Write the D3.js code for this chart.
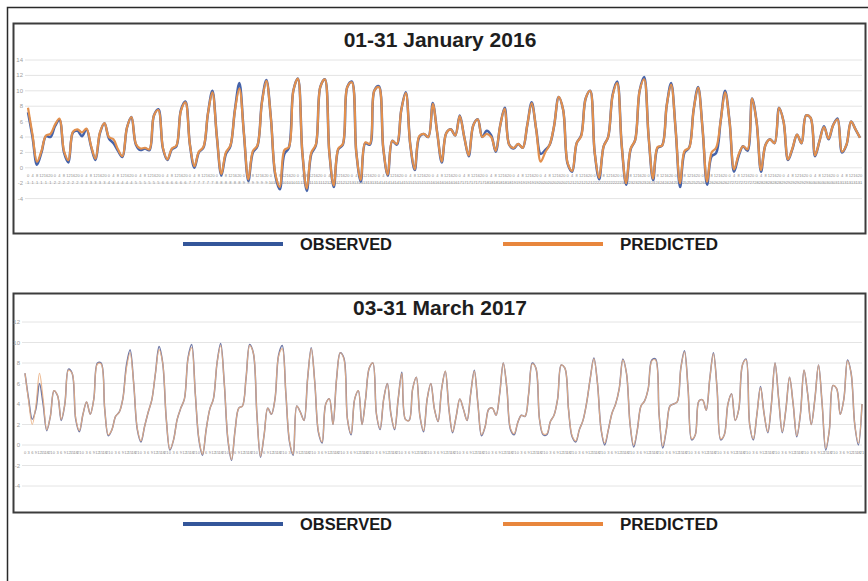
<!DOCTYPE html>
<html>
<head>
<meta charset="utf-8">
<script src="https://cdn.jsdelivr.net/npm/d3@7"></script>
<style>
  body { margin: 0; background: #fff; }
  svg { display: block; font-family: "Liberation Sans", Arial, sans-serif; }
</style>
</head>
<body>
<div id="chart"></div>
<script>
// 01-31 January 2016, 4-hourly values
let jan_days = d3.range(1, 32);
let jan_hours = ["0", "4", "8", "12", "16", "20"];
let jan_observed = [
  7.2, 4.0, 0.4, 2.0, 4.1, 4.0, 5.4, 6.2, 2.0, 0.7,
  4.6, 4.8, 4.1, 5.0, 2.8, 1.0, 4.5, 5.8, 3.8, 3.2,
  2.2, 1.4, 5.2, 6.6, 3.0, 2.3, 2.5, 2.3, 6.8, 7.6,
  2.5, 1.0, 2.4, 2.8, 7.5, 8.6, 3.0, 0.0, 2.0, 2.6,
  7.0, 10.0, 4.0, -1.0, 1.8, 2.8, 7.5, 11.0, 4.5, -1.7,
  2.0, 2.8, 8.5, 11.4, 6.5, -1.0, -2.8, 1.8, 2.6, 10.0,
  11.6, 2.0, -3.0, 1.8, 2.9, 10.5, 11.5, 2.0, -2.5, 2.4,
  3.0, 10.5, 11.2, 2.0, -1.8, 3.2, 3.0, 10.0, 10.6, 2.5,
  -1.0, 3.5, 3.0, 7.5, 9.8, 3.0, -0.3, 4.0, 4.4, 4.0,
  8.4, 4.5, 0.7, 4.5, 5.0, 4.2, 6.8, 4.0, 1.5, 5.5,
  6.3, 4.0, 4.8, 4.2, 2.1, 5.5, 7.8, 3.0, 2.5, 3.1,
  2.6, 5.5, 8.5, 5.0, 1.8, 2.3, 3.0, 5.5, 9.2, 7.5,
  0.5, -0.5, 3.2, 4.2, 9.0, 10.0, 2.0, -1.5, 2.8, 4.0,
  9.5, 11.2, 3.0, -2.2, 2.4, 3.6, 10.0, 11.8, 4.0, -1.6,
  2.6, 2.9, 8.0, 11.0, 5.0, -2.5, 2.0, 2.6, 7.5, 10.5,
  5.0, -2.2, 1.5, 1.9, 6.0, 10.0, 6.0, -0.5, 1.5, 2.8,
  2.2, 9.0, 6.0, -0.5, 3.0, 3.7, 3.2, 7.8, 6.0, 1.0,
  2.5, 4.3, 3.2, 6.8, 6.5, 1.5, 3.5, 5.4, 3.7, 5.5,
  6.4, 2.0, 3.0, 6.0, 5.0, 3.9
];
let jan_predicted = [
  7.8, 4.3, 0.8, 2.2, 4.2, 4.4, 5.6, 6.4, 2.2, 1.0,
  4.7, 5.0, 4.6, 5.1, 2.9, 1.2, 4.6, 5.8, 4.0, 3.7,
  2.4, 1.5, 5.2, 6.6, 3.1, 2.5, 2.6, 2.4, 6.8, 7.5,
  2.6, 1.1, 2.5, 2.9, 7.4, 8.5, 3.0, 0.2, 2.1, 2.7,
  7.0, 9.8, 4.0, -0.8, 2.0, 2.9, 7.4, 10.3, 4.5, -1.5,
  2.2, 2.9, 8.4, 11.3, 6.5, -0.8, -2.5, 2.3, 2.7, 10.0,
  11.6, 2.0, -2.7, 2.0, 3.0, 10.5, 11.5, 2.0, -2.3, 2.5,
  3.1, 10.5, 11.1, 2.0, -1.6, 3.3, 3.1, 10.0, 10.5, 2.5,
  -0.9, 3.5, 3.1, 7.5, 9.7, 3.0, -0.2, 4.1, 4.4, 4.0,
  8.3, 4.5, 0.8, 4.5, 5.0, 4.2, 6.7, 4.0, 1.6, 5.5,
  6.3, 4.0, 4.4, 4.0, 2.2, 5.5, 7.7, 3.0, 2.6, 3.1,
  2.6, 5.5, 8.4, 5.0, 0.8, 2.0, 3.0, 5.5, 9.2, 7.5,
  0.6, -0.4, 3.2, 4.1, 9.0, 10.0, 2.0, -1.3, 2.8, 4.0,
  9.4, 11.0, 3.0, -2.0, 2.5, 3.6, 10.0, 11.5, 4.0, -1.4,
  2.7, 2.9, 8.0, 10.8, 5.0, -2.0, 2.2, 2.6, 7.5, 10.4,
  5.0, -1.8, 2.0, 2.6, 6.0, 9.8, 6.0, -0.2, 1.7, 2.8,
  2.4, 9.0, 6.0, -0.3, 3.0, 3.7, 3.2, 7.8, 6.0, 1.1,
  2.6, 4.3, 3.2, 6.8, 6.5, 1.6, 3.5, 5.3, 3.8, 5.5,
  6.3, 2.1, 3.0, 6.0, 5.0, 3.9
];
let jan_ticks = [14, 12, 10, 8, 6, 4, 2, 0, -2, -4];

// 03-31 March 2017, 3-hourly values
let mar_days = d3.range(3, 32);
let mar_hours = ["0", "3", "6", "9", "12", "15", "18", "21"];
let mar_observed = [
  7.0, 4.5, 2.5, 3.5, 6.0, 4.0, 1.4, 2.8, 5.3, 4.8,
  2.4, 4.0, 7.4, 7.0, 2.5, 1.3, 3.0, 4.2, 3.0, 4.5,
  8.0, 8.0, 3.5, 0.9, 1.5, 2.8, 3.2, 4.5, 7.8, 9.3,
  6.0, 1.5, 0.3, 1.8, 3.2, 4.4, 7.0, 9.6, 8.0, 2.5,
  -0.5, 0.5, 2.5, 3.6, 4.5, 8.5, 9.8, 5.0, 0.5, -1.0,
  1.5, 3.5, 4.5, 8.0, 9.9, 6.0, 0.5, -1.5, 1.5, 3.6,
  3.8, 6.5, 9.8, 9.0, 3.0, -1.2, 1.0, 3.6, 3.0, 4.5,
  8.8, 9.7, 5.0, 0.3, -1.0, 3.8, 3.2, 2.4, 6.5, 9.5,
  6.0, 1.2, 0.2, 4.0, 4.5, 2.0, 6.5, 9.0, 8.5, 2.5,
  1.0, 4.5, 5.3, 2.0, 4.5, 7.5, 8.0, 3.0, 1.5, 4.5,
  6.0, 3.0, 1.5, 4.5, 7.1, 2.5, 2.4, 5.5, 6.6, 2.8,
  1.3, 4.5, 6.0, 3.5, 2.3, 5.5, 7.2, 3.5, 1.2, 2.8,
  4.5, 3.5, 2.4, 5.0, 7.3, 4.0, 0.9, 1.8, 3.5, 3.6,
  2.9, 5.0, 8.0, 5.5, 1.5, 1.0, 2.2, 2.9, 2.8, 5.0,
  8.0, 7.5, 2.5, 1.0, 1.0, 2.3, 2.9, 4.5, 7.8, 7.5,
  3.5, 0.8, 0.3, 1.5, 2.4, 4.1, 6.5, 8.5, 6.0, 1.5,
  0.0, 1.5, 3.1, 4.0, 5.5, 8.4, 7.0, 2.0, -0.2, 1.5,
  3.8, 4.3, 5.5, 8.3, 8.4, 3.0, -0.3, 1.5, 3.8, 4.0,
  4.2, 7.5, 9.2, 5.5, 0.5, 1.0, 4.3, 4.4, 3.4, 6.5,
  9.0, 5.5, 0.5, 1.0, 4.0, 5.0, 2.4, 3.5, 7.8, 8.4,
  2.0, 0.5, 3.0, 5.7, 3.0, 1.2, 4.0, 8.0, 4.5, 1.2,
  3.5, 6.6, 4.0, 0.8, 3.0, 7.3, 5.0, 2.0, 4.5, 7.8,
  4.0, -0.5, 1.5, 5.8, 5.5, 3.0, 4.5, 8.3, 7.0, 2.0,
  0.0, 4.0
];
let mar_predicted = [
  7.0, 4.3, 2.0, 3.8, 7.0, 4.5, 1.5, 2.8, 5.3, 4.8,
  2.5, 4.0, 7.3, 7.0, 2.6, 1.4, 3.0, 4.2, 3.0, 4.5,
  7.9, 7.9, 3.5, 1.0, 1.5, 2.8, 3.2, 4.5, 7.5, 9.0,
  6.0, 1.6, 0.4, 1.8, 3.2, 4.4, 7.0, 9.3, 8.0, 2.5,
  -0.4, 0.5, 2.5, 3.6, 4.5, 8.4, 9.5, 5.0, 0.6, -0.9,
  1.5, 3.5, 4.5, 8.0, 9.7, 6.0, 0.6, -1.4, 1.5, 3.6,
  3.8, 6.5, 9.7, 9.0, 3.0, -1.1, 1.0, 3.6, 3.0, 4.5,
  8.7, 9.4, 5.0, 0.4, -0.9, 3.8, 3.2, 2.4, 6.5, 9.4,
  6.0, 1.3, 0.3, 4.0, 4.5, 2.0, 6.5, 9.0, 8.4, 2.5,
  1.1, 4.5, 5.3, 2.0, 4.5, 7.5, 8.0, 3.0, 1.6, 4.5,
  6.0, 3.0, 1.6, 4.5, 7.0, 2.5, 2.4, 5.5, 6.6, 2.8,
  1.4, 4.5, 6.0, 3.5, 2.3, 5.5, 7.2, 3.5, 1.3, 2.8,
  4.5, 3.5, 2.4, 5.0, 7.2, 4.0, 1.0, 1.8, 3.5, 3.6,
  2.9, 5.0, 8.0, 5.5, 1.6, 1.1, 2.2, 2.9, 2.8, 5.0,
  7.9, 7.5, 2.5, 1.1, 1.1, 2.3, 2.9, 4.5, 7.8, 7.5,
  3.5, 0.9, 0.4, 1.5, 2.4, 4.1, 6.5, 8.4, 6.0, 1.5,
  0.2, 1.5, 3.1, 4.0, 5.5, 8.3, 7.0, 2.0, 0.0, 1.5,
  3.8, 4.3, 5.5, 8.2, 8.3, 3.0, -0.1, 1.5, 3.8, 4.0,
  4.2, 7.5, 9.1, 5.5, 0.6, 1.0, 4.3, 4.4, 3.4, 6.5,
  8.9, 5.5, 0.6, 1.0, 4.0, 5.0, 2.4, 3.5, 7.8, 8.3,
  2.0, 0.6, 3.0, 5.6, 3.0, 1.3, 4.0, 8.0, 4.5, 1.3,
  3.5, 6.6, 4.0, 0.9, 3.0, 7.3, 5.0, 2.0, 4.5, 7.8,
  4.0, -0.3, 1.5, 5.8, 5.5, 3.0, 4.5, 8.2, 7.0, 2.0,
  0.2, 4.0
];
let mar_ticks = [12, 10, 8, 6, 4, 2, 0, -2, -4];

let series_names = ["OBSERVED", "PREDICTED"];

let width = 868;
let height = 581;

let svg = d3.select("#chart").append("svg")
    .attr("width", width)
    .attr("height", height);

// outer frame
svg.append("rect")
    .attr("x", 7.5).attr("y", 7.5)
    .attr("width", 900).attr("height", 600)
    .attr("fill", "none")
    .attr("stroke", "#2a2a2a")
    .attr("stroke-width", 1.5);

function categories(days, hours) {
    let cats = [];
    days.forEach(function (d) {
        hours.forEach(function (h) {
            cats.push({day: d, hour: h, key: d + "-" + h});
        });
    });
    return cats;
}

function drawPanel(p) {
    let g = svg.append("g");

    // chart box
    g.append("rect")
        .attr("x", 13.5).attr("y", p.boxTop)
        .attr("width", 852).attr("height", p.boxHeight)
        .attr("fill", "#fff")
        .attr("stroke", "#3c3c3c")
        .attr("stroke-width", 2);

    let cats = categories(p.days, p.hours);
    let x = d3.scalePoint()
        .domain(cats.map(c => c.key))
        .range(p.xRange);
    let y = d3.scaleLinear()
        .domain([d3.min(p.ticks), d3.max(p.ticks)])
        .range(p.yRange);

    // gridlines
    g.selectAll(".grid")
        .data(p.ticks)
        .enter().append("line")
        .attr("x1", p.xRange[0] - 3).attr("x2", 862)
        .attr("y1", d => y(d)).attr("y2", d => y(d))
        .attr("stroke", "#e4e4e4")
        .attr("stroke-width", 1);

    // y labels
    g.selectAll(".ylab")
        .data(p.ticks)
        .enter().append("text")
        .attr("x", p.xRange[0] - 5)
        .attr("y", d => y(d) + 2)
        .attr("text-anchor", "end")
        .attr("font-size", 6)
        .attr("fill", "#a0a0a0")
        .text(d => d);

    // category labels (tiny, like the original export)
    g.selectAll(".xlab")
        .data(cats)
        .enter().append("text")
        .attr("x", d => x(d.key))
        .attr("y", y(0) + p.labelOffset)
        .attr("text-anchor", "middle")
        .attr("font-size", 4)
        .attr("fill", "#8c8c8c")
        .text(d => d.hour);
    if (p.twoRows) {
        g.selectAll(".xlab2")
            .data(cats)
            .enter().append("text")
            .attr("x", d => x(d.key))
            .attr("y", y(0) + p.labelOffset + 7)
            .attr("text-anchor", "middle")
            .attr("font-size", 4)
            .attr("fill", "#8c8c8c")
            .text(d => d.day);
    }

    let line = d3.line()
        .x((d, i) => x(cats[i].key))
        .y(d => y(d))
        .curve(d3.curveCatmullRom.alpha(0.5));

    g.append("path")
        .datum(p.observed)
        .attr("d", line)
        .attr("fill", "none")
        .attr("stroke", p.blue)
        .attr("stroke-width", p.lineWidth + 0.3);

    g.append("path")
        .datum(p.predicted)
        .attr("d", line)
        .attr("fill", "none")
        .attr("stroke", p.orange)
        .attr("stroke-opacity", p.orangeOpacity)
        .attr("stroke-width", p.lineWidth);

    // title
    g.append("text")
        .attr("x", 440)
        .attr("y", p.titleY)
        .attr("text-anchor", "middle")
        .attr("font-size", 21)
        .attr("font-weight", "bold")
        .attr("fill", "#1e1e1e")
        .text(p.title);

    // legend below the box
    let legendColors = ["#34569a", "#e8863d"];
    let lg = g.append("g").attr("transform", "translate(0," + p.legendY + ")");
    series_names.forEach(function (name, i) {
        let x0 = 183 + i * 320;
        lg.append("line")
            .attr("x1", x0).attr("x2", x0 + 100)
            .attr("y1", 0).attr("y2", 0)
            .attr("stroke", legendColors[i])
            .attr("stroke-width", 4);
        lg.append("text")
            .attr("x", x0 + 117)
            .attr("y", 6)
            .attr("font-size", 16)
            .attr("font-weight", "bold")
            .attr("fill", "#1a1a1a")
            .attr("textLength", i === 0 ? 92 : 98)
            .attr("lengthAdjust", "spacingAndGlyphs")
            .text(name);
    });
}

drawPanel({
    title: "01-31 January 2016",
    days: jan_days, hours: jan_hours,
    observed: jan_observed, predicted: jan_predicted,
    ticks: jan_ticks,
    boxTop: 23.5, boxHeight: 210,
    xRange: [28, 860], yRange: [198.6, 60],
    titleY: 47, legendY: 244,
    labelOffset: 9, twoRows: true,
    blue: "#4563aa", orange: "#e2904e", orangeOpacity: 1, lineWidth: 2.2
});

drawPanel({
    title: "03-31 March 2017",
    days: mar_days, hours: mar_hours,
    observed: mar_observed, predicted: mar_predicted,
    ticks: mar_ticks,
    boxTop: 293.5, boxHeight: 219,
    xRange: [25, 862], yRange: [486, 322],
    titleY: 315, legendY: 524,
    labelOffset: 9, twoRows: false,
    blue: "#6f78a6", orange: "#e9ae80", orangeOpacity: 0.85, lineWidth: 1.2
});
</script>
</body>
</html>
